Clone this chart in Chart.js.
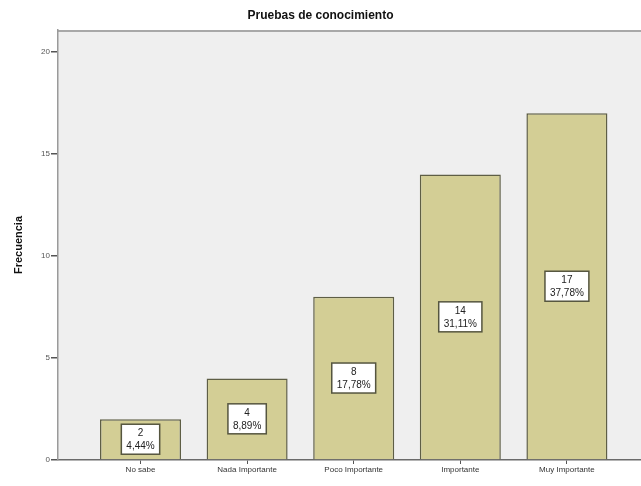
<!DOCTYPE html>
<html>
<head>
<meta charset="utf-8">
<script src="https://cdn.jsdelivr.net/npm/chart.js@4"></script>
<style>
    html, body { margin: 0; padding: 0; background: #ffffff; }
    #wrap { width: 641px; height: 486px; }
</style>
</head>
<body>
<div id="wrap"><canvas id="barChart" width="641" height="486"></canvas></div>
<script>
const categories = ["No sabe", "Nada Importante", "Poco Importante", "Importante", "Muy Importante"];
const frecuencias = [2, 4, 8, 14, 17];
const porcentajes = ["4,44%", "8,89%", "17,78%", "31,11%", "37,78%"];
const yTicks = [0, 5, 10, 15, 20];

// bars sit at positions 1..5 on a linear x scale so the side margins can be set
const points = frecuencias.map((v, i) => ({ x: i + 1, y: v }));

// grey plot background and frame
const plotFrame = {
    id: "plotFrame",
    beforeDraw(chart) {
        const { ctx, chartArea: a } = chart;
        ctx.save();
        ctx.fillStyle = "#efefef";
        ctx.fillRect(a.left, a.top, a.right - a.left, a.bottom - a.top);
        ctx.strokeStyle = "#a8a8a8";
        ctx.lineWidth = 2;
        ctx.beginPath();
        ctx.moveTo(a.left, a.top + 1);
        ctx.lineTo(a.right, a.top + 1);
        ctx.stroke();
        ctx.restore();
    }
};

// boxed count + percentage in the middle of each bar
const barLabels = {
    id: "barLabels",
    afterDatasetsDraw(chart) {
        const { ctx } = chart;
        const meta = chart.getDatasetMeta(0);
        ctx.save();
        ctx.font = "10px 'Liberation Sans', Arial, sans-serif";
        ctx.textAlign = "center";
        ctx.textBaseline = "middle";
        meta.data.forEach((bar, i) => {
            const cx = bar.x;
            const cy = (bar.y + bar.base) / 2;
            const l1 = String(frecuencias[i]);
            const l2 = porcentajes[i];
            const w = Math.max(ctx.measureText(l1).width, ctx.measureText(l2).width) + 10;
            const h = 30;
            ctx.fillStyle = "#ffffff";
            ctx.fillRect(cx - w / 2, cy - h / 2, w, h);
            ctx.strokeStyle = "#55553f";
            ctx.lineWidth = 1.5;
            ctx.strokeRect(cx - w / 2, cy - h / 2, w, h);
            ctx.fillStyle = "#222222";
            ctx.fillText(l1, cx, cy - 6);
            ctx.fillText(l2, cx, cy + 7);
        });
        ctx.restore();
    }
};

new Chart(document.getElementById("barChart"), {
    type: "bar",
    data: {
        datasets: [{
            label: "Frecuencia",
            data: points,
            backgroundColor: "#d3ce95",
            borderColor: "#5e5e45",
            borderWidth: 1.5,
            barPercentage: 0.76,
            categoryPercentage: 1.0
        }]
    },
    plugins: [plotFrame, barLabels],
    options: {
        responsive: false,
        animation: false,
        layout: { padding: { left: 0, right: 0, top: 0, bottom: 0 } },
        plugins: {
            legend: { display: false },
            tooltip: { enabled: false },
            title: {
                display: true,
                text: "Pruebas de conocimiento",
                color: "#111111",
                font: { family: "'Liberation Sans', Arial, sans-serif", size: 12, weight: "bold" },
                padding: { top: 8, bottom: 7.6 }
            }
        },
        scales: {
            x: {
                type: "linear",
                min: 0.226,
                max: 5.695,
                offset: false,
                afterBuildTicks(scale) {
                    scale.ticks = categories.map((_, i) => ({ value: i + 1 }));
                },
                afterFit(scale) { scale.height = 26; },
                ticks: {
                    autoSkip: false,
                    maxRotation: 0,
                    padding: 1,
                    color: "#333333",
                    font: { family: "'Liberation Sans', Arial, sans-serif", size: 8 },
                    callback: (v) => categories[v - 1] || ""
                },
                grid: { offset: false, drawOnChartArea: false, tickLength: 4, color: "#555555" },
                border: { color: "#6a6a6a", width: 1.5 }
            },
            y: {
                min: 0,
                max: 21.08,
                afterBuildTicks(scale) {
                    scale.ticks = yTicks.map(v => ({ value: v }));
                },
                afterFit(scale) { scale.width = 58; },
                ticks: {
                    padding: 1,
                    color: "#555555",
                    font: { family: "'Liberation Sans', Arial, sans-serif", size: 8 }
                },
                grid: { drawOnChartArea: false, tickLength: 7, color: "#555555", lineWidth: 1.5 },
                border: { color: "#9a9a9a", width: 1.5 },
                title: {
                    display: true,
                    text: "Frecuencia",
                    color: "#111111",
                    font: { family: "'Liberation Sans', Arial, sans-serif", size: 11, weight: "bold" },
                    padding: { top: 12, bottom: 0 }
                }
            }
        }
    }
});
</script>
</body>
</html>
